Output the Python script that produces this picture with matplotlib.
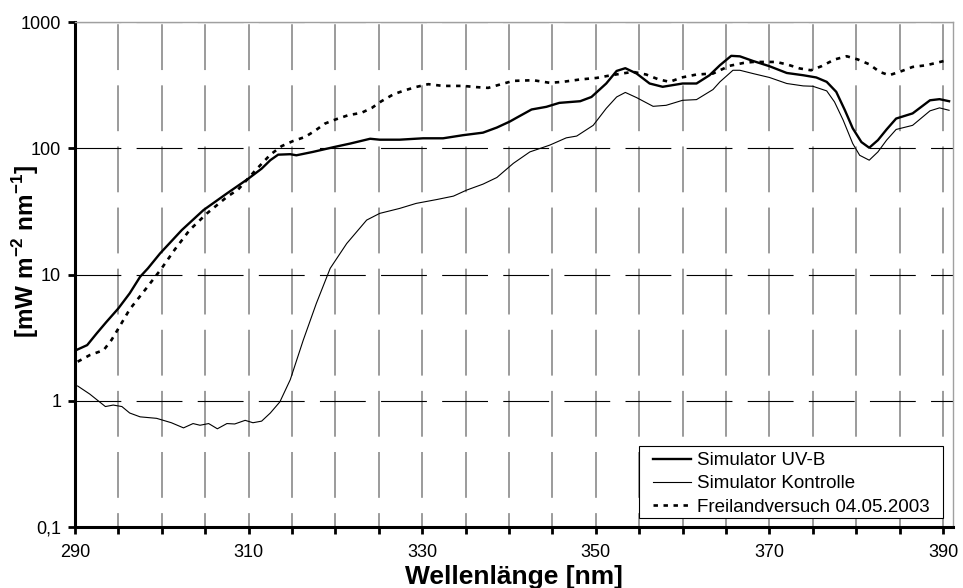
import matplotlib
matplotlib.use("Agg")
from matplotlib import pyplot as plt
from matplotlib.patches import Rectangle
from matplotlib.ticker import FixedLocator, NullLocator

plt.rcParams['font.family'] = ['Liberation Sans', 'DejaVu Sans']
plt.rcParams['mathtext.fontset'] = 'custom'
plt.rcParams['mathtext.rm'] = 'Liberation Sans'
plt.rcParams['mathtext.bf'] = 'Liberation Sans:bold'
plt.rcParams['lines.scale_dashes'] = False

# Spektren (Wellenlaenge in nm, Bestrahlungsstaerke in mW m-2 nm-1)
uvb_wl = [290.3, 291.4, 292.5, 293.6, 295.0, 296.3, 297.5, 298.4, 299.8, 302.3,
          304.8, 307.5, 310.0, 311.5, 312.5, 313.4, 314.8, 315.5, 317.4, 319.9,
          321.7, 324.0, 325.1, 327.4, 330.1, 332.4, 334.7, 337.0, 338.6, 340.1,
          340.9, 342.6, 344.3, 345.8, 348.2, 349.5, 351.2, 352.4, 353.4, 354.7,
          356.2, 357.7, 360.0, 361.6, 363.1, 364.3, 365.6, 366.6, 368.1, 370.0,
          372.0, 373.9, 375.4, 376.6, 377.7, 378.7, 379.6, 380.6, 381.5, 382.5,
          383.5, 384.6, 386.5, 388.5, 389.6, 390.7]
uvb_val = [2.55, 2.76, 3.42, 4.2, 5.4, 7.1, 9.6, 11.2, 14.7, 22.5,
           32.4, 43.9, 57.7, 69, 80.5, 89, 89.8, 88, 93.6, 102.5,
           109, 119, 117, 117, 120, 120, 127, 133, 146, 163,
           175, 203, 213, 229, 236, 255, 326, 410, 431, 391,
           326, 307, 326, 326, 379, 455, 540, 535, 492, 447,
           395, 379, 364, 336, 280, 200, 144, 112, 101, 116,
           141, 172, 189, 240, 245, 236]

ctrl_wl = [290.3, 291.7, 293.5, 294.4, 295.4, 296.3, 297.5, 299.4, 301.1, 302.5,
           303.6, 304.4, 305.4, 306.4, 307.5, 308.4, 309.6, 310.5, 311.5, 312.5,
           313.6, 314.8, 316.3, 317.8, 319.4, 321.3, 323.6, 325.1, 327.4, 329.3,
           331.7, 333.6, 335.1, 337.0, 338.6, 340.5, 342.4, 344.7, 346.6, 347.8,
           349.7, 351.2, 352.4, 353.4, 354.7, 356.6, 358.1, 360.0, 361.6, 363.5,
           364.3, 365.8, 366.6, 368.1, 370.0, 372.0, 373.9, 375.0, 376.6, 377.5,
           378.5, 379.6, 380.4, 381.5, 382.5, 383.5, 384.6, 386.5, 388.5, 389.6,
           390.7]
ctrl_val = [1.31, 1.13, 0.90, 0.925, 0.90, 0.80, 0.746, 0.726, 0.67, 0.61,
            0.66, 0.64, 0.66, 0.60, 0.66, 0.655, 0.70, 0.67, 0.69, 0.80,
            0.98, 1.47, 3.03, 5.9, 11.2, 17.6, 27, 30.5, 33.4, 36.6,
            39.3, 41.8, 46.6, 52, 58.7, 76, 93.6, 106, 121, 125,
            152, 207, 255, 277, 252, 215, 219, 240, 243, 292,
            336, 415, 415, 391, 364, 326, 312, 310, 285, 233,
            167, 109, 88, 80.5, 93.6, 116, 141, 152, 198, 209,
            200]

frei_wl = [290.3, 291.7, 293.3, 294.2, 295.0, 296.3, 298.2, 299.9, 301.5, 303.2,
           305.2, 307.5, 308.8, 310.7, 312.5, 313.8, 315.1, 316.5, 317.6, 318.8,
           320.1, 321.5, 323.0, 324.2, 325.3, 326.7, 328.0, 329.3, 330.7, 332.4,
           334.7, 336.3, 337.6, 339.1, 340.5, 342.8, 344.7, 346.2, 348.2, 350.1,
           351.6, 353.0, 354.3, 355.8, 357.2, 358.5, 359.9, 361.6, 363.5, 365.4,
           367.0, 368.1, 369.3, 370.8, 372.1, 373.5, 374.8, 376.0, 377.5, 378.9,
           380.2, 381.5, 382.7, 383.8, 385.2, 386.5, 388.1, 390.3]
frei_val = [2.04, 2.30, 2.52, 3.03, 3.74, 5.3, 7.76, 11.0, 15.8, 22.5,
            30.5, 41.2, 47.2, 65.9, 89, 104, 114, 123, 137, 157,
            170, 183, 191, 209, 236, 268, 288, 306, 322, 312,
            312, 305, 301, 322, 342, 346, 330, 336, 351, 361,
            377, 391, 403, 384, 352, 336, 364, 384, 391, 450,
            474, 483, 483, 483, 460, 429, 415, 447, 505, 536,
            505, 463, 403, 379, 408, 441, 455, 495]

labels = ["Simulator UV-B", "Simulator Kontrolle", "Freilandversuch 04.05.2003"]
xticks = list(range(290, 391, 5))
xlabels = [str(t) if (t - 290) % 20 == 0 else "" for t in xticks]
yticks = [0.1, 1, 10, 100, 1000]
ylabels = ["0,1", "1", "10", "100", "1000"]

fig = plt.figure(figsize=(9.63, 5.88), dpi=100)
ax = fig.add_axes([0.0779, 0.1037, 0.9117, 0.8588])

ax.plot(uvb_wl, uvb_val, color="black", lw=1.7, label=labels[0], zorder=3)
ax.plot(ctrl_wl, ctrl_val, color="black", lw=0.8, label=labels[1], zorder=3)
ax.plot(frei_wl, frei_val, color="black", lw=1.9, linestyle=(0, (3.2, 4.0)),
        label=labels[2], zorder=3)

ax.set_yscale("log")
ax.set_xlim(290, 391.15)
ax.set_ylim(0.1, 1000)

ax.xaxis.set_major_locator(FixedLocator(xticks))
ax.set_xticklabels(xlabels)
ax.yaxis.set_major_locator(FixedLocator(yticks))
ax.yaxis.set_minor_locator(NullLocator())
ax.set_yticklabels(ylabels)
ax.tick_params(axis="both", direction="out", length=5, width=2, labelsize=13)
ax.tick_params(axis="x", pad=7)
ax.tick_params(axis="y", pad=5)

# Gitter: senkrecht grau gestrichelt, waagrecht schwarz gestrichelt
ax.xaxis.grid(True, color="#808080", lw=1.1, linestyle=(23, (33, 11)), zorder=1)
ax.yaxis.grid(True, color="black", lw=0.8, linestyle=(0, (33, 11)), zorder=1)
ax.set_axisbelow(True)

for side in ("left", "bottom"):
    ax.spines[side].set_linewidth(2.2)
    ax.spines[side].set_color("black")
for side in ("top", "right"):
    ax.spines[side].set_linewidth(1.0)
    ax.spines[side].set_color("#a0a0a0")

ax.set_xlabel("Wellenlänge [nm]", fontsize=19, fontweight="bold", labelpad=3)
ax.set_ylabel(r"[mW m$^{\mathbf{-2}}$ nm$^{\mathbf{-1}}$]", fontsize=17.5, fontweight="bold")
ax.yaxis.set_label_coords(-0.039, 0.545)

# Legendenrahmen separat, damit Groesse und Lage fest bleiben
box = Rectangle((0.6424, 0.0178), 0.3462, 0.1426, transform=ax.transAxes,
                facecolor="white", edgecolor="black", lw=0.8, zorder=4)
ax.add_patch(box)
leg = ax.legend(loc="upper left", bbox_to_anchor=(0.6583, 0.1485), fontsize=13.5,
                frameon=False, handlelength=2.03, handletextpad=0.32,
                labelspacing=0.33, borderpad=0, borderaxespad=0)
leg.set_zorder(5)

plt.savefig("out.png", dpi=100)
